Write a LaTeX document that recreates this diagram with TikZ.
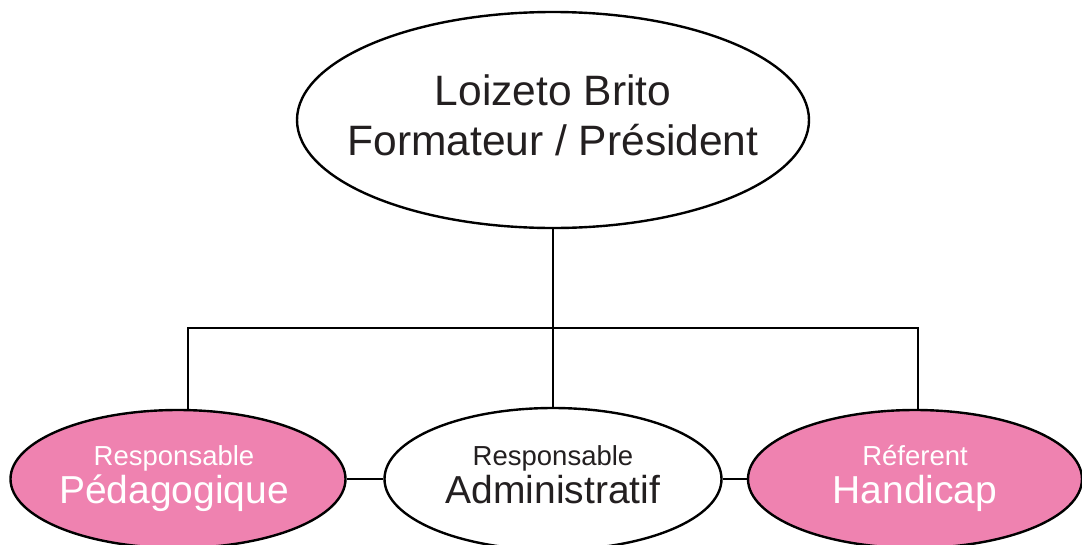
\documentclass[tikz,border=0pt]{standalone}
\usepackage{fontspec}
\setmainfont{Liberation Sans}
\usetikzlibrary{shapes.geometric}
\definecolor{pinkfill}{RGB}{239,130,176}
\definecolor{darktext}{RGB}{35,31,32}
\tikzset{
  oval/.style={ellipse, draw=black, line width=2.4pt, inner sep=0pt},
  conn/.style={draw=black, line width=2.4pt},
  bigtxt/.style={anchor=base, inner sep=0pt, text=darktext, font=\fontsize{42.5}{50}\selectfont},
  midtxt/.style={anchor=base, inner sep=0pt, font=\fontsize{39}{44}\selectfont},
  smalltxt/.style={anchor=base, inner sep=0pt, font=\fontsize{27.5}{32}\selectfont},
}
\begin{document}
\begin{tikzpicture}[x=1pt,y=-1pt]
\useasboundingbox (0,0) rectangle (1082,544);
\clip (0,0) rectangle (1082,544);
% ellipses
\node[oval, fill=white, minimum width=512pt, minimum height=216pt] (T) at (553,120) {};
\node[oval, fill=pinkfill, minimum width=335pt, minimum height=138pt] (L) at (178,479) {};
\node[oval, fill=white, minimum width=337pt, minimum height=142pt] (M) at (553,479) {};
\node[oval, fill=pinkfill, minimum width=334pt, minimum height=138pt] (R) at (915,479) {};
% connectors
\coordinate (J) at (553,328);
\draw[conn] (T.south) -- (M.north);
\draw[conn] ([xshift=10pt]L.north) |- (J) -| ([xshift=3pt]R.north);
\draw[conn] (L.east) -- (M.west);
\draw[conn] (M.east) -- (R.west);
% texts
\node[bigtxt] (t1) at (553,105) {Loizeto Brito};
\node[bigtxt] (t2) at (553,155) {Formateur / Président};
\node[smalltxt, text=white] (l1) at (174,465) {Responsable};
\node[midtxt, text=white] (l2) at (174,503) {Pédagogique};
\node[smalltxt, text=darktext] (m1) at (553,465) {Responsable};
\node[midtxt, text=darktext] (m2) at (553,503) {Administratif};
\node[smalltxt, text=white] (r1) at (915,465) {Réferent};
\node[midtxt, text=white] (r2) at (915,503) {Handicap};
\end{tikzpicture}
\end{document}
